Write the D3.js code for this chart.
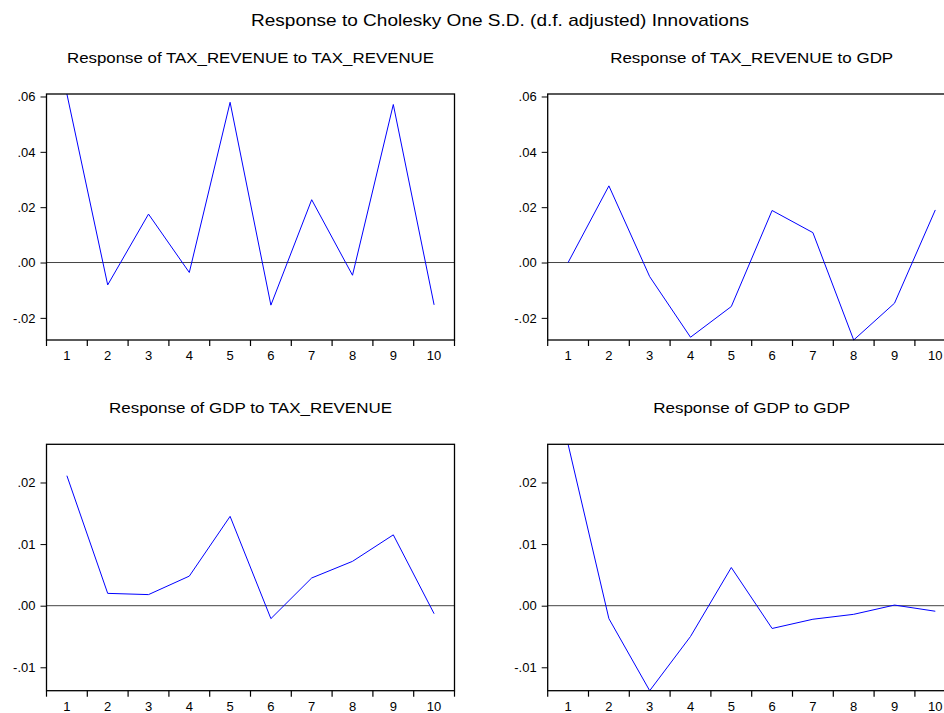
<!DOCTYPE html>
<html><head><meta charset="utf-8">
<script src="https://cdn.jsdelivr.net/npm/d3@7"></script>
<style>body{margin:0;background:#fff}svg{display:block}text{font-family:"Liberation Sans",Arial,sans-serif;fill:#000}</style>
</head><body><svg id="c" width="944" height="713"></svg>
<script>
const periods = [1,2,3,4,5,6,7,8,9,10];
const mainTitle = "Response to Cholesky One S.D. (d.f. adjusted) Innovations";
const panelTitles = ["Response of TAX_REVENUE to TAX_REVENUE","Response of TAX_REVENUE to GDP","Response of GDP to TAX_REVENUE","Response of GDP to GDP"];
const taxToTax = [0.0609,-0.0081,0.0175,-0.0036,0.0579,-0.0154,0.0227,-0.0046,0.0571,-0.0153];
const taxToGdp = [0.0000,0.0277,-0.0051,-0.0270,-0.0159,0.0188,0.0108,-0.0280,-0.0147,0.0190];
const gdpToTax = [0.0211,0.0020,0.0018,0.0048,0.0145,-0.0021,0.0045,0.0072,0.0115,-0.0013];
const gdpToGdp = [0.0262,-0.0021,-0.0138,-0.0050,0.0062,-0.0037,-0.0022,-0.0014,0.0001,-0.0009];
const topTicks = [-0.02,0,0.02,0.04,0.06];
const botTicks = [-0.01,0,0.01,0.02];
const fmt = v => { const s = Math.abs(v).toFixed(2).replace(/^0/,""); return (v<0?"-":"")+s; };

const svg = d3.select("#c");
svg.append("text").attr("x",500).attr("y",26).attr("text-anchor","middle")
  .style("font-size","17px").attr("textLength",498).attr("lengthAdjust","spacingAndGlyphs").text(mainTitle);

const rows = [
  {top:94, bottom:340, titleY:63, ticks:topTicks, series:[taxToTax,taxToGdp]},
  {top:444.3, bottom:690.7, titleY:413, ticks:botTicks, series:[gdpToTax,gdpToGdp]}
];
const cols = [{left:46.5},{left:547.7}];
const bw = 40.8;
const titleLens = [[367,283],[283,197]];

rows.forEach((row,ri)=>{
  const all = row.series.flat();
  const y = d3.scaleLinear().domain(d3.extent(all)).range([row.bottom,row.top]);
  cols.forEach((col,ci)=>{
    const data = row.series[ci];
    const x = d3.scaleBand().domain(periods).range([col.left,col.left+bw*10]);
    const g = svg.append("g");
    const right = col.left+bw*10;
    g.append("text").attr("x",(col.left+right)/2).attr("y",row.titleY).attr("text-anchor","middle")
      .style("font-size","14.5px").attr("textLength",titleLens[ri][ci]).attr("lengthAdjust","spacingAndGlyphs")
      .text(panelTitles[ri*2+ci]);
    g.append("line").attr("x1",col.left).attr("x2",right).attr("y1",y(0)).attr("y2",y(0))
      .attr("stroke","#444").attr("stroke-width",1);
    g.append("path").datum(data.map((v,i)=>[periods[i],v]))
      .attr("fill","none").attr("stroke","#0000ff").attr("stroke-width",1)
      .attr("d",d3.line().x(d=>x(d[0])+x.bandwidth()/2).y(d=>y(d[1])));
    g.append("rect").attr("x",col.left).attr("y",row.top).attr("width",right-col.left).attr("height",row.bottom-row.top)
      .attr("fill","none").attr("stroke","#000").attr("stroke-width",1.3);
    const ya = g.append("g").attr("transform",`translate(${col.left},0)`)
      .call(d3.axisLeft(y).tickValues(row.ticks).tickFormat(fmt).tickSize(6).tickPadding(5));
    ya.select(".domain").remove();
    ya.attr("font-size",null).attr("font-family",null);
    ya.selectAll("text").style("font-size","13px");
    ya.selectAll("line").attr("stroke","#000");
    const xa = g.append("g").attr("transform",`translate(0,${row.bottom})`);
    const bounds = d3.range(11).map(i=>col.left+i*bw);
    xa.selectAll("line").data(bounds).join("line").attr("x1",d=>d).attr("x2",d=>d).attr("y1",0).attr("y2",6)
      .attr("stroke","#000").attr("stroke-width",1.2);
    xa.selectAll("text").data(periods).join("text").attr("x",d=>x(d)+x.bandwidth()/2).attr("y",20)
      .attr("text-anchor","middle").style("font-size","13px").text(d=>d);
  });
});
</script></body></html>
